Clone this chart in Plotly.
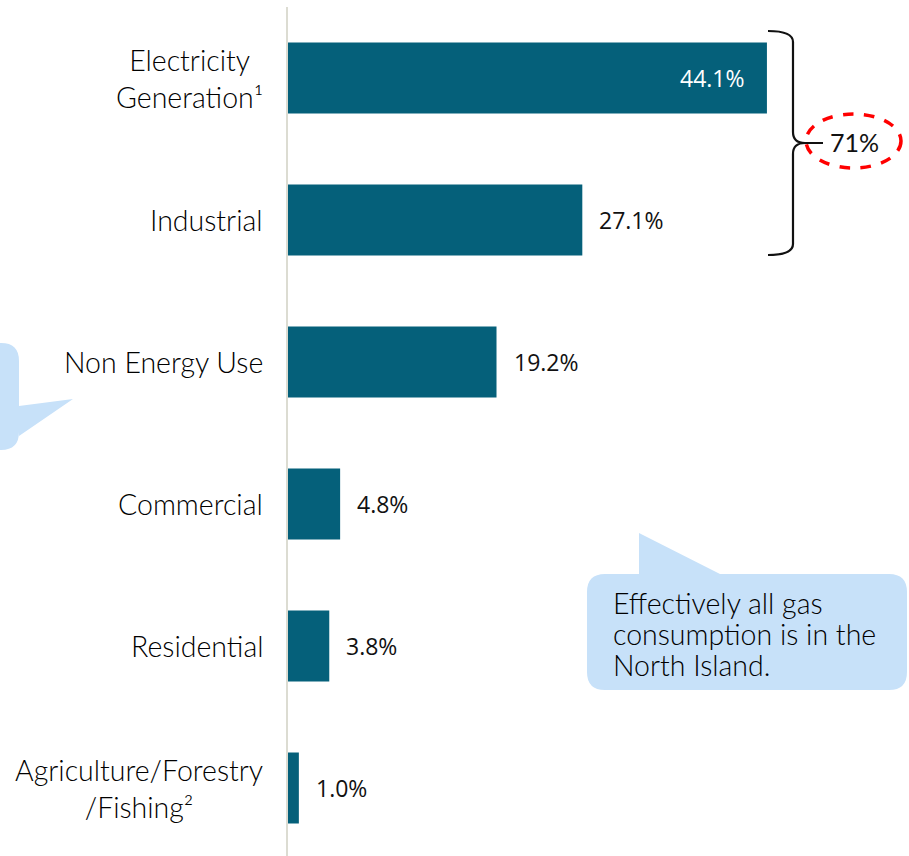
import plotly.graph_objects as go

categories = ["Electricity<br>Generation¹", "Industrial", "Non Energy Use",
              "Commercial", "Residential", "Agriculture/Forestry<br>/Fishing²"]
shares = [44.1, 27.1, 19.2, 4.8, 3.8, 1.0]
bracket_total = "71%"
callout_lines = ["Effectively all gas", "consumption is in the", "North Island."]

W, H = 909, 856
L, T = 288, 7
PW, PH = W - L, H - T

BAR = "#05607A"
BUBBLE = "#C7E1F9"
LABEL_FONT = "Lato"


def px(x, y):
    # pixel position -> paper coords
    return (x - L) / PW, (H - y) / PH


def path(points, close=True):
    parts = []
    for i, p in enumerate(points):
        if p[0] == "Q":
            c = px(*p[1]); e = px(*p[2])
            parts.append(f"Q {c[0]:.5f},{c[1]:.5f} {e[0]:.5f},{e[1]:.5f}")
        else:
            q = px(*p)
            parts.append(("M " if i == 0 else "L ") + f"{q[0]:.5f},{q[1]:.5f}")
    return " ".join(parts) + (" Z" if close else "")


def bubble(x0, y0, x1, y1, r, tail):
    # rounded box with a tail inserted on its top edge or right edge
    side, pts = tail
    p = [(x0 + r, y0)]
    if side == "top":
        p += pts
    p += [(x1 - r, y0), ("Q", (x1, y0), (x1, y0 + r))]
    if side == "right":
        p += pts
    p += [(x1, y1 - r), ("Q", (x1, y1), (x1 - r, y1)),
          (x0 + r, y1), ("Q", (x0, y1), (x0, y1 - r)),
          (x0, y0 + r), ("Q", (x0, y0), (x0 + r, y0))]
    return path(p)


fig = go.Figure(go.Bar(
    x=shares, y=list(range(len(categories))), orientation="h",
    marker=dict(color=BAR, line=dict(width=0)), width=0.5,
    hoverinfo="skip",
))

label_font = dict(family=LABEL_FONT, size=28.5, weight=300, color="#000000")

annotations = []
for i, (c, v) in enumerate(zip(categories, shares)):
    annotations.append(dict(
        x=0, y=i, xref="x", yref="y", text=c, showarrow=False,
        xanchor="right", align="center", xshift=-23, font=label_font))
    inside = v > 30
    annotations.append(dict(
        x=v, y=i, xref="x", yref="y", text=f"{v:.1f}%", showarrow=False,
        xanchor="right" if inside else "left", xshift=-20 if inside else 15,
        font=dict(family="Open Sans", size=23,
                  color="white" if inside else "#111111")))

# 71% label
cx, cy = px(854, 142)
annotations.append(dict(x=cx, y=cy, xref="paper", yref="paper", text=bracket_total,
                        showarrow=False, xanchor="center", yanchor="middle",
                        font=dict(family=LABEL_FONT, size=25, weight=400, color="#111111")))
# callout text, one line at a time to keep the tight line spacing
for k, line in enumerate(callout_lines):
    tx, ty = px(611, 603 + 31 * k)
    annotations.append(dict(x=tx, y=ty, xref="paper", yref="paper", text=line,
                            showarrow=False, xanchor="left", yanchor="middle",
                            font=label_font))

shapes = [
    # right callout bubble
    dict(type="path", xref="paper", yref="paper", layer="below",
         path=bubble(587, 574, 907, 690, 18, ("top", [(639, 574), (639, 533), (720, 574)])),
         fillcolor=BUBBLE, line=dict(width=0)),
    # left callout, mostly off-canvas
    dict(type="path", xref="paper", yref="paper", layer="below",
         path=bubble(-200, 343, 19, 450, 18, ("right", [(19, 406), (73, 399), (19, 436)])),
         fillcolor=BUBBLE, line=dict(width=0)),
    # curly bracket
    dict(type="path", xref="paper", yref="paper",
         path=path([(768, 31), ("Q", (793, 31), (793, 42)), (793, 132),
                    ("Q", (793, 143), (805, 143)), ("Q", (793, 143), (793, 154)),
                    (793, 244), ("Q", (793, 255), (768, 255))], close=False),
         line=dict(color="#111111", width=2.2)),
    dict(type="line", xref="paper", yref="paper",
         x0=px(805, 143)[0], y0=px(805, 143)[1], x1=px(823, 143)[0], y1=px(823, 143)[1],
         line=dict(color="#111111", width=2)),
    # red dashed ellipse
    dict(type="circle", xref="paper", yref="paper",
         x0=px(806, 114)[0], y0=px(806, 114)[1], x1=px(901, 168)[0], y1=px(901, 168)[1],
         line=dict(color="#FF0000", width=3.5, dash="dash")),
]

fig.update_layout(
    width=W, height=H,
    margin=dict(l=L, r=0, t=T, b=0),
    plot_bgcolor="white", paper_bgcolor="white",
    showlegend=False,
    xaxis=dict(range=[0, PW / 10.86], visible=False, fixedrange=True),
    yaxis=dict(range=[(PH - 71) / 142, -0.5], showticklabels=False,
               showgrid=False, zeroline=False, showline=True,
               linecolor="#DCDCD2", linewidth=2, ticks="", fixedrange=True),
    annotations=annotations,
    shapes=shapes,
)

fig.write_html("out.html", config={"displayModeBar": False},
               post_script="document.body.style.margin='0';")
